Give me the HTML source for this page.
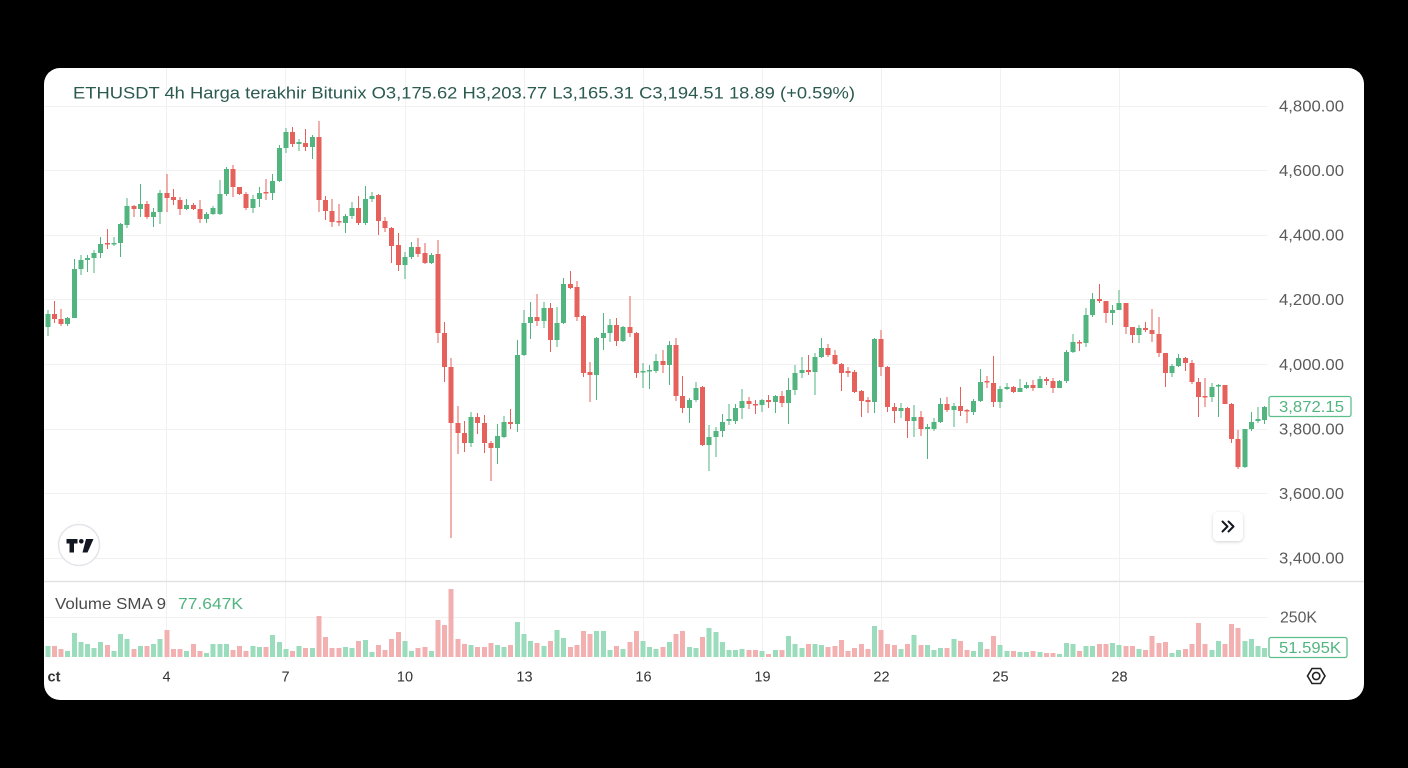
<!DOCTYPE html>
<html>
<head>
<meta charset="utf-8">
<style>
  html,body{margin:0;padding:0;background:#000;}
  body{width:1408px;height:768px;overflow:hidden;}
  svg{display:block;}
  text{font-family:"Liberation Sans", Arial, sans-serif;}
</style>
</head>
<body>
<svg width="1408" height="768" viewBox="0 0 1408 768" xmlns="http://www.w3.org/2000/svg">
  <defs>
    <clipPath id="plot"><rect x="44" y="68" width="1224" height="513"/></clipPath>
    <clipPath id="vol"><rect x="44" y="582" width="1224" height="80"/></clipPath>
    <filter id="sh" x="-30%" y="-30%" width="160%" height="170%">
      <feDropShadow dx="0" dy="1" stdDeviation="1.5" flood-color="#000" flood-opacity="0.18"/>
    </filter>
  </defs>
  <rect x="0" y="0" width="1408" height="768" fill="#000"/>
  <rect x="44" y="68" width="1320" height="632" rx="16" ry="16" fill="#fff"/>

  <!-- grid -->
  <g stroke="#f1f1f1" stroke-width="1">
    <path d="M44 106.5H1268M44 170.5H1268M44 235.5H1268M44 299.5H1268M44 364.5H1268M44 429.5H1268M44 493.5H1268M44 558.5H1268M44 617.5H1268"/>
    <path d="M166.5 68V660M285.5 68V660M405.5 68V660M524.5 68V660M643.5 68V660M762.5 68V660M881.5 68V660M1000.5 68V660M1119.5 68V660"/>
  </g>
  <path d="M44 581.5H1364" stroke="#e2e2e2" stroke-width="1.5"/>

  <!-- candles -->
  <g clip-path="url(#plot)">
    <path fill="none" stroke="#52b47f" stroke-width="1" d="M48 310V336M67.5 317V326M74.5 259V318M81 255V275M87.5 255V272M94 250V273M100.5 237V258M114 237V246M120.5 223V257M127 198V228M140.5 184V217M153.5 208V227M160 190V224M186.5 199V210M206.5 212V223M213 206V215M220 180V215M226.5 167V196M253 195V213M259.5 187V207M272.5 174V200M279.5 145V182M286 128V153M299 139V151M312.5 135V159M345.5 214V233M352 202V219M365.5 186V225M372 192V202M405 252V279M411.5 242V259M431.5 253V264M471 412V447M497.5 424V464M504 416V438M517.5 340V432M524 310V356M530.5 302V339M544 302V328M557 307V347M563.5 278V324M596.5 337V400M603.5 313V350M610 319V342M623 326V342M643 363V388M649.5 365V389M656 354V373M669.5 341V385M689.5 398V423M696 382V402M709 425V471M716 427V457M722.5 414V437M729 404V425M735.5 404V424M742 389V419M762 399V412M775.5 395V413M788.5 378V424M795 365V395M802 357V378M815 353V395M821.5 338V358M874.5 338V413M901 403V418M914 405V437M927.5 424V459M934 418V431M940.5 398V423M954 403V427M973.5 399V415M980.5 369V402M1000 386V408M1007 383V390M1020 379V392M1026.5 382V389M1040 376V388M1059.5 380V388M1066.5 350V383M1073 334V353M1086 308V347M1092.5 293V317M1112.5 305V325M1119 290V310M1139 325V343M1172 364V377M1178.5 354V367M1212 383V402M1218.5 384V417M1245 429V468M1251.5 412V431M1258 407V423M1264.5 406V424"/>
    <path fill="#52b47f" d="M45.5 314h5v13h-5zM65 318h5v6h-5zM72 269h5v49h-5zM78.5 260h5v9h-5zM85 258h5v2h-5zM91.5 253h5v5h-5zM98 244h5v9h-5zM111.5 243h5v1.5h-5zM118 224h5v19h-5zM124.5 206h5v19h-5zM138 204h5v5h-5zM151 212h5v5h-5zM157.5 193h5v19h-5zM184 205h5v4h-5zM204 214h5v5h-5zM210.5 208h5v6h-5zM217.5 194h5v20h-5zM224 169h5v25h-5zM250.5 199h5v9h-5zM257 193h5v6h-5zM270 181h5v12h-5zM277 148h5v33h-5zM283.5 132h5v16h-5zM296.5 142h5v2h-5zM310 137h5v10h-5zM343 216h5v7h-5zM349.5 208h5v8h-5zM363 199h5v24h-5zM369.5 196h5v3h-5zM402.5 257h5v8h-5zM409 247h5v10h-5zM429 255h5v8h-5zM468.5 417h5v26h-5zM495 436h5v12h-5zM501.5 422h5v15h-5zM515 355h5v69h-5zM521.5 323h5v32h-5zM528 317h5v6h-5zM541.5 308h5v13h-5zM554.5 323h5v17h-5zM561 284h5v39h-5zM594 338h5v37h-5zM601 333h5v5h-5zM607.5 325h5v8h-5zM620.5 327h5v14h-5zM640.5 371h5v1.5h-5zM647 370h5v1.5h-5zM653.5 361h5v10h-5zM667 345h5v20h-5zM687 400h5v8h-5zM693.5 388h5v12h-5zM706.5 437h5v8h-5zM713.5 431h5v6h-5zM720 422h5v9h-5zM726.5 419h5v2h-5zM733 408h5v13h-5zM739.5 401h5v7h-5zM759.5 400h5v5h-5zM773 396h5v6h-5zM786 390h5v13h-5zM792.5 373h5v17h-5zM799.5 370h5v3h-5zM812.5 357h5v15h-5zM819 348h5v9h-5zM872 339h5v63h-5zM898.5 408h5v3h-5zM911.5 417h5v4h-5zM925 427h5v2h-5zM931.5 422h5v7h-5zM938 404h5v18h-5zM951.5 406h5v4h-5zM971 401h5v11h-5zM978 382h5v19h-5zM997.5 389h5v13h-5zM1004.5 387h5v2h-5zM1017.5 388h5v4h-5zM1024 385h5v3h-5zM1037.5 379h5v9h-5zM1057 381h5v7h-5zM1064 352h5v29h-5zM1070.5 342h5v10h-5zM1083.5 315h5v28h-5zM1090 299h5v16h-5zM1110 310h5v3h-5zM1116.5 303h5v7h-5zM1136.5 328h5v7h-5zM1169.5 366h5v7h-5zM1176 358h5v8h-5zM1209.5 387h5v10h-5zM1216 385h5v1.5h-5zM1242.5 429h5v38h-5zM1249 422h5v7h-5zM1255.5 419h5v2h-5zM1262 407h5v13h-5z"/>
    <path fill="none" stroke="#e6615b" stroke-width="1" d="M54.5 301V323M61 309V326M107.5 229V249M134 205V217M147 201V219M167 174V212M173.5 189V205M180 197V215M193.5 203V210M200 200V223M233 165V197M239.5 187V195M246 192V210M266 179V200M292.5 127V147M305.5 129V151M319 121V212M325.5 196V220M332 199V227M339 204V226M358.5 196V225M378.5 194V235M385 217V232M391.5 227V263M398.5 233V271M418 238V257M425 243V264M438 240V343M444.5 322V382M451 358V538M458 406V454M464.5 421V452M477.5 413V434M484.5 415V453M491 441V481M510.5 409V429M537 294V326M550.5 303V352M570.5 271V289M577 281V321M583.5 315V377M590 362V402M616.5 318V346M630 296V337M636.5 332V378M663 350V373M676 338V401M682.5 376V413M702.5 386V446M749 397V409M755.5 400V414M768.5 395V408M782 391V407M808.5 355V375M828 344V357M835 350V365M841.5 363V391M848 367V377M854.5 370V393M861.5 390V417M868 397V413M881 330V376M887.5 366V412M894.5 403V423M907.5 407V438M921 411V436M947 397V412M960.5 387V416M967 409V423M987 376V388M993.5 356V407M1013.5 386V393M1033 380V391M1046.5 377V385M1053 378V393M1079.5 340V351M1099.5 284V303M1106 301V323M1126 303V334M1132.5 327V343M1145.5 322V332M1152 309V342M1159 317V357M1165.5 353V387M1185.5 357V371M1192 360V384M1198.5 378V417M1205 378V407M1225 385V404M1231.5 403V443M1238 430V469"/>
    <path fill="#e6615b" d="M52 314h5v5h-5zM58.5 319h5v5h-5zM105 243h5v1.5h-5zM131.5 206h5v3h-5zM144.5 204h5v13h-5zM164.5 193h5v5h-5zM171 197h5v3h-5zM177.5 200h5v9h-5zM191 205h5v4h-5zM197.5 209h5v10h-5zM230.5 169h5v18h-5zM237 187h5v7h-5zM243.5 194h5v14h-5zM263.5 192h5v1.5h-5zM290 132h5v12h-5zM303 143h5v4h-5zM316.5 137h5v63h-5zM323 200h5v11h-5zM329.5 211h5v11h-5zM336.5 221h5v1.5h-5zM356 208h5v15h-5zM376 195h5v26h-5zM382.5 221h5v7h-5zM389 228h5v18h-5zM396 245h5v20h-5zM415.5 247h5v7h-5zM422.5 253h5v10h-5zM435.5 254h5v79h-5zM442 333h5v34h-5zM448.5 367h5v56h-5zM455.5 423h5v10h-5zM462 433h5v10h-5zM475 417h5v6h-5zM482 423h5v20h-5zM488.5 443h5v5h-5zM508 422h5v2h-5zM534.5 317h5v4h-5zM548 308h5v32h-5zM568 284h5v4h-5zM574.5 287h5v30h-5zM581 316h5v57h-5zM587.5 372h5v3h-5zM614 325h5v16h-5zM627.5 327h5v6h-5zM634 333h5v40h-5zM660.5 361h5v4h-5zM673.5 345h5v51h-5zM680 396h5v12h-5zM700 387h5v58h-5zM746.5 401h5v3h-5zM753 404h5v1.5h-5zM766 400h5v2h-5zM779.5 396h5v7h-5zM806 370h5v2h-5zM825.5 348h5v7h-5zM832.5 355h5v9h-5zM839 364h5v9h-5zM845.5 371h5v2h-5zM852 372h5v20h-5zM859 391h5v10h-5zM865.5 400h5v2h-5zM878.5 339h5v28h-5zM885 367h5v40h-5zM892 407h5v4h-5zM905 408h5v13h-5zM918.5 417h5v12h-5zM944.5 404h5v6h-5zM958 406h5v5h-5zM964.5 410h5v1.5h-5zM984.5 381h5v1.5h-5zM991 383h5v19h-5zM1011 387h5v5h-5zM1030.5 385h5v3h-5zM1044 379h5v2h-5zM1050.5 381h5v7h-5zM1077 342h5v1.5h-5zM1097 299h5v2h-5zM1103.5 301h5v12h-5zM1123.5 303h5v24h-5zM1130 327h5v8h-5zM1143 328h5v2h-5zM1149.5 330h5v4h-5zM1156.5 334h5v19h-5zM1163 353h5v20h-5zM1183 358h5v5h-5zM1189.5 363h5v19h-5zM1196 382h5v15h-5zM1202.5 396h5v1.5h-5zM1222.5 385h5v19h-5zM1229 404h5v35h-5zM1235.5 439h5v28h-5z"/>
  </g>

  <!-- volume -->
  <g clip-path="url(#vol)">
    <path fill="#9adcbb" d="M45.5 657h5v-11h-5zM65 657h5v-6h-5zM72 657h5v-24h-5zM78.5 657h5v-15h-5zM85 657h5v-13h-5zM91.5 657h5v-9h-5zM98 657h5v-15h-5zM111.5 657h5v-6h-5zM118 657h5v-23h-5zM124.5 657h5v-18h-5zM138 657h5v-11h-5zM151 657h5v-13h-5zM157.5 657h5v-18h-5zM184 657h5v-6h-5zM204 657h5v-4h-5zM210.5 657h5v-13h-5zM217.5 657h5v-13h-5zM224 657h5v-13h-5zM250.5 657h5v-11h-5zM257 657h5v-10h-5zM270 657h5v-22h-5zM277 657h5v-15h-5zM283.5 657h5v-8h-5zM296.5 657h5v-11h-5zM310 657h5v-9h-5zM343 657h5v-10h-5zM349.5 657h5v-9h-5zM363 657h5v-17h-5zM369.5 657h5v-5h-5zM402.5 657h5v-16h-5zM409 657h5v-6h-5zM429 657h5v-6h-5zM468.5 657h5v-12h-5zM495 657h5v-12h-5zM501.5 657h5v-10h-5zM515 657h5v-35h-5zM521.5 657h5v-23h-5zM528 657h5v-16h-5zM541.5 657h5v-11h-5zM554.5 657h5v-27h-5zM561 657h5v-19h-5zM594 657h5v-26h-5zM601 657h5v-26h-5zM607.5 657h5v-7h-5zM620.5 657h5v-8h-5zM640.5 657h5v-16h-5zM647 657h5v-10h-5zM653.5 657h5v-8h-5zM667 657h5v-15h-5zM687 657h5v-10h-5zM693.5 657h5v-9h-5zM706.5 657h5v-29h-5zM713.5 657h5v-25h-5zM720 657h5v-15h-5zM726.5 657h5v-7h-5zM733 657h5v-7h-5zM739.5 657h5v-8h-5zM759.5 657h5v-6h-5zM773 657h5v-7h-5zM786 657h5v-21h-5zM792.5 657h5v-13h-5zM799.5 657h5v-9h-5zM812.5 657h5v-13h-5zM819 657h5v-12h-5zM872 657h5v-31h-5zM898.5 657h5v-8h-5zM911.5 657h5v-22h-5zM925 657h5v-12h-5zM931.5 657h5v-7h-5zM938 657h5v-9h-5zM951.5 657h5v-18h-5zM971 657h5v-6h-5zM978 657h5v-15h-5zM997.5 657h5v-12h-5zM1004.5 657h5v-6h-5zM1017.5 657h5v-5h-5zM1024 657h5v-5h-5zM1037.5 657h5v-5h-5zM1057 657h5v-3h-5zM1064 657h5v-14h-5zM1070.5 657h5v-13h-5zM1083.5 657h5v-11h-5zM1090 657h5v-11h-5zM1110 657h5v-14h-5zM1116.5 657h5v-12h-5zM1136.5 657h5v-8h-5zM1169.5 657h5v-4h-5zM1176 657h5v-7h-5zM1209.5 657h5v-7h-5zM1216 657h5v-16h-5zM1242.5 657h5v-16h-5zM1249 657h5v-18h-5zM1255.5 657h5v-11h-5zM1262 657h5v-9h-5z"/>
    <path fill="#f2b0b0" d="M52 657h5v-11h-5zM58.5 657h5v-8h-5zM105 657h5v-12h-5zM131.5 657h5v-8h-5zM144.5 657h5v-11h-5zM164.5 657h5v-27h-5zM171 657h5v-8h-5zM177.5 657h5v-8h-5zM191 657h5v-13h-5zM197.5 657h5v-6h-5zM230.5 657h5v-7h-5zM237 657h5v-11h-5zM243.5 657h5v-6h-5zM263.5 657h5v-10h-5zM290 657h5v-6h-5zM303 657h5v-9h-5zM316.5 657h5v-41h-5zM323 657h5v-20h-5zM329.5 657h5v-9h-5zM336.5 657h5v-9h-5zM356 657h5v-16h-5zM376 657h5v-12h-5zM382.5 657h5v-7h-5zM389 657h5v-18h-5zM396 657h5v-25h-5zM415.5 657h5v-9h-5zM422.5 657h5v-10h-5zM435.5 657h5v-37h-5zM442 657h5v-32h-5zM448.5 657h5v-68h-5zM455.5 657h5v-18h-5zM462 657h5v-13h-5zM475 657h5v-10h-5zM482 657h5v-10h-5zM488.5 657h5v-14h-5zM508 657h5v-12h-5zM534.5 657h5v-14h-5zM548 657h5v-16h-5zM568 657h5v-10h-5zM574.5 657h5v-12h-5zM581 657h5v-26h-5zM587.5 657h5v-23h-5zM614 657h5v-11h-5zM627.5 657h5v-15h-5zM634 657h5v-26h-5zM660.5 657h5v-10h-5zM673.5 657h5v-23h-5zM680 657h5v-26h-5zM700 657h5v-20h-5zM746.5 657h5v-7h-5zM753 657h5v-7h-5zM766 657h5v-3h-5zM779.5 657h5v-7h-5zM806 657h5v-13h-5zM825.5 657h5v-10h-5zM832.5 657h5v-11h-5zM839 657h5v-17h-5zM845.5 657h5v-6h-5zM852 657h5v-9h-5zM859 657h5v-13h-5zM865.5 657h5v-8h-5zM878.5 657h5v-27h-5zM885 657h5v-13h-5zM892 657h5v-12h-5zM905 657h5v-13h-5zM918.5 657h5v-12h-5zM944.5 657h5v-9h-5zM958 657h5v-16h-5zM964.5 657h5v-7h-5zM984.5 657h5v-8h-5zM991 657h5v-21h-5zM1011 657h5v-6h-5zM1030.5 657h5v-6h-5zM1044 657h5v-4h-5zM1050.5 657h5v-4h-5zM1077 657h5v-6h-5zM1097 657h5v-13h-5zM1103.5 657h5v-13h-5zM1123.5 657h5v-11h-5zM1130 657h5v-11h-5zM1143 657h5v-7h-5zM1149.5 657h5v-21h-5zM1156.5 657h5v-14h-5zM1163 657h5v-15h-5zM1183 657h5v-8h-5zM1189.5 657h5v-13h-5zM1196 657h5v-34h-5zM1202.5 657h5v-13h-5zM1222.5 657h5v-13h-5zM1229 657h5v-33h-5zM1235.5 657h5v-29h-5z"/>
  </g>

  <!-- legend / title -->
  <text x="73" y="98.5" font-size="16.5" fill="#2b5a4f" textLength="782" lengthAdjust="spacingAndGlyphs">ETHUSDT 4h Harga terakhir Bitunix O3,175.62 H3,203.77 L3,165.31 C3,194.51 18.89 (+0.59%)</text>
  <text x="55" y="609" font-size="16" fill="#4a4a4a" textLength="111" lengthAdjust="spacingAndGlyphs">Volume SMA 9</text>
  <text x="178" y="609" font-size="16" fill="#52b47f" textLength="65" lengthAdjust="spacingAndGlyphs">77.647K</text>

  <!-- price axis -->
  <g font-size="15.5" fill="#5a5a5a">
    <text x="1279" y="111.5" textLength="65" lengthAdjust="spacingAndGlyphs">4,800.00</text>
    <text x="1279" y="176" textLength="65" lengthAdjust="spacingAndGlyphs">4,600.00</text>
    <text x="1279" y="240.5" textLength="65" lengthAdjust="spacingAndGlyphs">4,400.00</text>
    <text x="1279" y="305" textLength="65" lengthAdjust="spacingAndGlyphs">4,200.00</text>
    <text x="1279" y="370" textLength="65" lengthAdjust="spacingAndGlyphs">4,000.00</text>
    <text x="1279" y="434.5" textLength="65" lengthAdjust="spacingAndGlyphs">3,800.00</text>
    <text x="1279" y="499" textLength="65" lengthAdjust="spacingAndGlyphs">3,600.00</text>
    <text x="1279" y="563.5" textLength="65" lengthAdjust="spacingAndGlyphs">3,400.00</text>
    <text x="1280" y="622.5" textLength="37" lengthAdjust="spacingAndGlyphs">250K</text>
  </g>

  <!-- current price label -->
  <rect x="1269" y="396.5" width="82" height="20" rx="2" fill="#fff" stroke="#5cbf8a" stroke-width="1.3"/>
  <text x="1279" y="412" font-size="15.5" fill="#52b47f" textLength="65" lengthAdjust="spacingAndGlyphs">3,872.15</text>
  <rect x="1269" y="637.5" width="78" height="20" rx="2" fill="#fff" stroke="#5cbf8a" stroke-width="1.3"/>
  <text x="1279" y="653" font-size="15.5" fill="#52b47f" textLength="62" lengthAdjust="spacingAndGlyphs">51.595K</text>

  <!-- time axis -->
  <g font-size="14.5" fill="#333" text-anchor="middle">
    <text x="54" y="681.5" font-weight="bold">ct</text>
    <text x="166.5" y="681.5">4</text>
    <text x="285.5" y="681.5">7</text>
    <text x="405" y="681.5">10</text>
    <text x="524.5" y="681.5">13</text>
    <text x="643.5" y="681.5">16</text>
    <text x="762.5" y="681.5">19</text>
    <text x="881.5" y="681.5">22</text>
    <text x="1000.5" y="681.5">25</text>
    <text x="1119.5" y="681.5">28</text>
  </g>

  <!-- settings icon -->
  <g fill="none" stroke="#222" stroke-width="1.6">
    <path d="M1307.5 676L1312 668.5H1320.5L1325 676L1320.5 683.5H1312Z"/>
    <circle cx="1316.2" cy="676" r="3.6"/>
  </g>

  <!-- TV logo -->
  <circle cx="79" cy="545" r="20.5" fill="#fff" stroke="#e3e5ea" stroke-width="1.5"/>
  <g fill="#131722">
    <path d="M66.5 539h11v4.5h-3.5v9h-4.5v-9h-3z"/>
    <circle cx="81.3" cy="541.3" r="2.3"/>
    <path d="M86 539h7.5l-6 13.5h-5z"/>
  </g>

  <!-- scroll button -->
  <rect x="1213" y="512" width="30" height="29" rx="5" fill="#fff" filter="url(#sh)"/>
  <g fill="none" stroke="#131722" stroke-width="2" stroke-linecap="round" stroke-linejoin="round">
    <path d="M1222.5 521.5l5 5l-5 5"/>
    <path d="M1228.5 521.5l5 5l-5 5"/>
  </g>
</svg>
</body>
</html>
